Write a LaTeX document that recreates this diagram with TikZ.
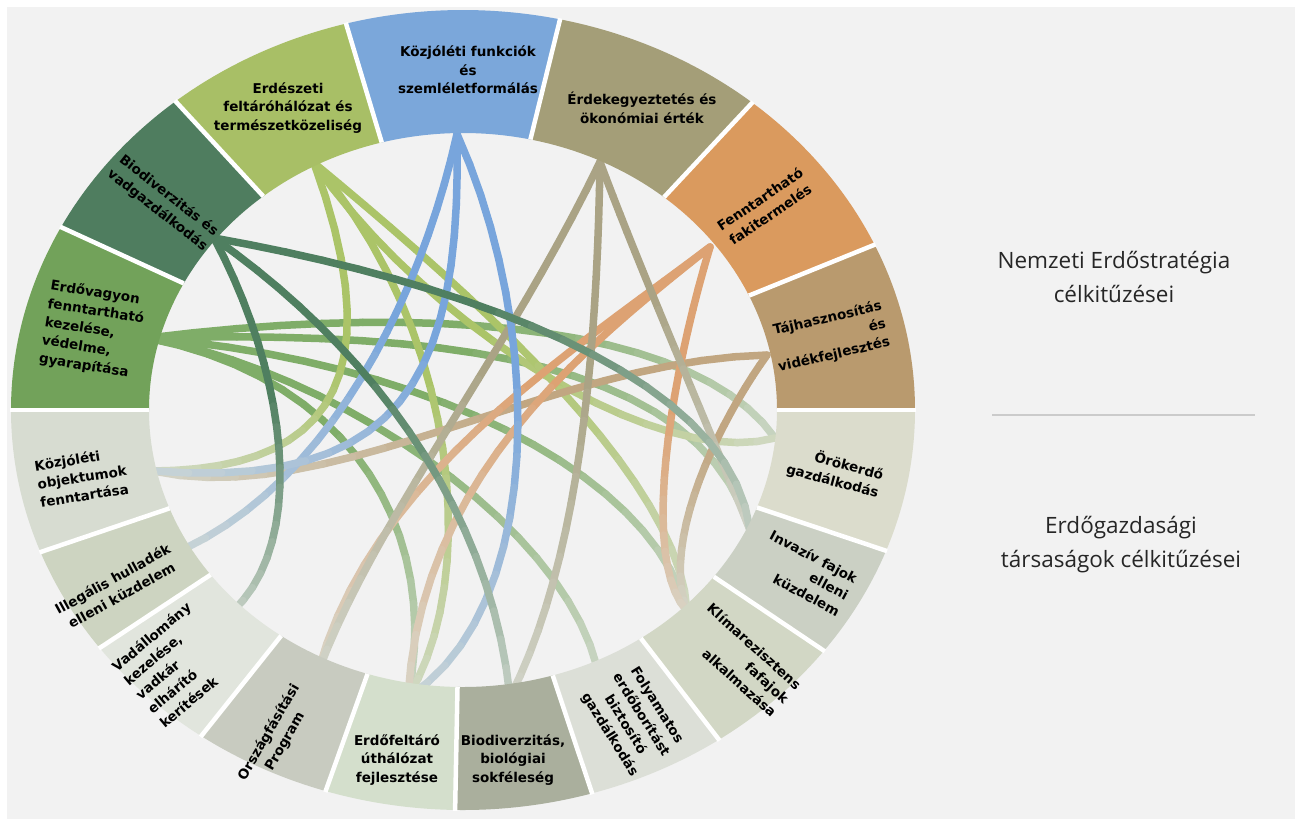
\documentclass[tikz,border=0pt]{standalone}
\usepackage{fontspec}
\setmainfont{DejaVu Sans}
\newfontfamily\osfont{Open Sans}
\usetikzlibrary{calc}
\definecolor{bg}{HTML}{F2F2F2}
\definecolor{sErdovagyon}{HTML}{72A25A}
\definecolor{sBiovad}{HTML}{4F7D5F}
\definecolor{sErdeszeti}{HTML}{A8BF66}
\definecolor{sBlue}{HTML}{7BA7DA}
\definecolor{sErdek}{HTML}{A49E78}
\definecolor{sFennt}{HTML}{DA9A5E}
\definecolor{sTaj}{HTML}{B99A6E}
\definecolor{sKozobj}{HTML}{D7DCD1}
\definecolor{sIlleg}{HTML}{CDD4C1}
\definecolor{sVad}{HTML}{E1E5DD}
\definecolor{sOrszag}{HTML}{C8CBC0}
\definecolor{sErdofelt}{HTML}{D4DFCC}
\definecolor{sBiodiv}{HTML}{AAAF9D}
\definecolor{sFoly}{HTML}{DCDFD7}
\definecolor{sKlima}{HTML}{D2D7C5}
\definecolor{sInvaz}{HTML}{CBD0C4}
\definecolor{sOrok}{HTML}{DBDCCC}
\definecolor{cErdovagyon}{HTML}{7FAD68}
\definecolor{cBiovad}{HTML}{4F7F60}
\definecolor{cErdeszeti}{HTML}{ABC468}
\definecolor{cBlue}{HTML}{78A5DC}
\definecolor{cErdek}{HTML}{AAA385}
\definecolor{cFennt}{HTML}{DDA273}
\definecolor{cTaj}{HTML}{C1A681}
\definecolor{fadec}{HTML}{D8DDD5}
\definecolor{txtdark}{HTML}{262626}
\definecolor{sepgray}{HTML}{CBCBCB}

\newcommand\ringseg[3]{%
  \fill[#3] ($(ctr)+(#1:452pt and 400pt)$) arc[start angle=#1, end angle=#2, x radius=452pt, y radius=400pt]
    -- ($(ctr)+(#2:314pt and 277pt)$) arc[start angle=#2, end angle=#1, x radius=314pt, y radius=277pt] -- cycle;}
\newcommand\gapline[1]{%
  \draw[gapl] ($(ctr)+(#1:314pt and 277pt)$) -- ($(ctr)+(#1:453pt and 401pt)$);}
\newcommand\chord[5]{%
  \path (#1) .. controls #2 and #3 .. (#4)
    coordinate[pos=0] (q0) coordinate[pos=0.05] (q1) coordinate[pos=0.1] (q2)
    coordinate[pos=0.15] (q3) coordinate[pos=0.2] (q4) coordinate[pos=0.25] (q5)
    coordinate[pos=0.3] (q6) coordinate[pos=0.35] (q7) coordinate[pos=0.4] (q8)
    coordinate[pos=0.45] (q9) coordinate[pos=0.5] (q10) coordinate[pos=0.55] (q11)
    coordinate[pos=0.6] (q12) coordinate[pos=0.65] (q13) coordinate[pos=0.7] (q14)
    coordinate[pos=0.75] (q15) coordinate[pos=0.8] (q16) coordinate[pos=0.85] (q17)
    coordinate[pos=0.9] (q18) coordinate[pos=0.95] (q19) coordinate[pos=1] (q20);
  \foreach \k in {0,...,19}{%
    \pgfmathtruncatemacro\kk{\k+1}%
    \pgfmathtruncatemacro\pc{\k<8 ? 100 : 100-80*(\k-7)/12}%
    \draw[chordline, draw=#5!\pc!fadec] (q\k) -- (q\kk);
  }%
}

\begin{document}
\begin{tikzpicture}[x=1pt,y=1pt,
  chordline/.style={line width=7.5pt, line cap=round, line join=round},
  gapl/.style={white, line width=4.5pt},
  lbl/.style={font=\bfseries\fontsize{13.5}{18.5}\selectfont, align=center, text=black, inner sep=0pt},
  rtxt/.style={font=\osfont\fontsize{22.5}{34}\selectfont, align=center, text=txtdark, inner sep=0pt},
  sepline/.style={sepgray, line width=2.5pt}]
\useasboundingbox (0,0) rectangle (1295,-819);
\fill[white] (0,0) rectangle (1295,-819);
\fill[bg] (7,-7) rectangle (1295,-819);

\coordinate (ctr) at (463,-410);
% anchors
\coordinate (t1) at (148,-338);
\coordinate (t2) at (214,-238);
\coordinate (t3) at (314,-163);
\coordinate (t4) at (457,-134);
\coordinate (t5) at (600,-162);
\coordinate (t6) at (710,-247);
\coordinate (t7) at (767,-355);
\coordinate (b1) at (153,-471);
\coordinate (b2) at (184,-549);
\coordinate (b3) at (232,-612);
\coordinate (b4) at (318,-672);
\coordinate (b5) at (408,-697);
\coordinate (b6) at (510,-697);
\coordinate (b7) at (597,-667);
\coordinate (b8) at (687,-611);
\coordinate (b9) at (750,-530);
\coordinate (b10) at (775,-438);

% chords
\chord{t1}{(330,-370)}{(560,-520)}{b7}{cErdovagyon}
\chord{t1}{(360,-380)}{(440,-540)}{b5}{cErdovagyon}
\chord{t1}{(420,-360)}{(650,-470)}{b8}{cErdovagyon}
\chord{t1}{(450,-330)}{(700,-360)}{b9}{cErdovagyon}
\chord{t1}{(450,-300)}{(700,-330)}{b10}{cErdovagyon}
\chord{t3}{(400,-400)}{(310,-470)}{b1}{cErdeszeti}
\chord{t3}{(460,-330)}{(480,-580)}{b5}{cErdeszeti}
\chord{t3}{(430,-330)}{(660,-470)}{b10}{cErdeszeti}
\chord{t3}{(480,-300)}{(680,-480)}{b8}{cErdeszeti}
\chord{t7}{(550,-360)}{(330,-510)}{b1}{cTaj}
\chord{t7}{(720,-420)}{(660,-540)}{b8}{cTaj}
\chord{t6}{(560,-360)}{(370,-480)}{b4}{cFennt}
\chord{t6}{(580,-350)}{(420,-480)}{b5}{cFennt}
\chord{t6}{(670,-380)}{(640,-560)}{b8}{cFennt}
\chord{t5}{(510,-350)}{(375,-520)}{b4}{cErdek}
\chord{t5}{(597,-350)}{(580,-560)}{b6}{cErdek}
\chord{t5}{(640,-270)}{(710,-430)}{b9}{cErdek}
\chord{t4}{(420,-300)}{(330,-480)}{b2}{cBlue}
\chord{t4}{(462,-380)}{(400,-490)}{b1}{cBlue}
\chord{t4}{(545,-330)}{(545,-610)}{b5}{cBlue}
\chord{t2}{(285,-370)}{(310,-540)}{b3}{cBiovad}
\chord{t2}{(360,-340)}{(490,-500)}{b6}{cBiovad}
\chord{t2}{(450,-280)}{(730,-370)}{b9}{cBiovad}

% ring
\ringseg{0}{24.4}{sTaj}
\ringseg{24.4}{50.2}{sFennt}
\ringseg{50.2}{77.6}{sErdek}
\ringseg{77.6}{105}{sBlue}
\ringseg{105}{129.5}{sErdeszeti}
\ringseg{129.5}{152.8}{sBiovad}
\ringseg{152.8}{180}{sErdovagyon}
\ringseg{180}{200.8}{sKozobj}
\ringseg{200.8}{216.5}{sIlleg}
\ringseg{216.5}{234.6}{sVad}
\ringseg{234.6}{252.3}{sOrszag}
\ringseg{252.3}{269}{sErdofelt}
\ringseg{269}{286.6}{sBiodiv}
\ringseg{286.6}{304.5}{sFoly}
\ringseg{304.5}{323}{sKlima}
\ringseg{323}{339.4}{sInvaz}
\ringseg{339.4}{360}{sOrok}
\foreach \a in {0,24.4,50.2,77.6,105,129.5,152.8,180,200.8,216.5,234.6,252.3,269,286.6,304.5,323,339.4}{\gapline{\a}}

% labels, upper half
\node[lbl] (l4) at (468,-70) {Közjóléti funkciók\\és\\szemléletformálás};
\node[lbl] (l5) at (642,-108) {Érdekegyeztetés és\\ökonómiai érték};
\node[lbl, rotate=34] (l6) at (765,-207) {Fenntartható\\fakitermelés};
\node[lbl, rotate=13, align=right] (l7) at (830,-337) {Tájhasznosítás\\és\\vidékfejlesztés};
\node[lbl] (l3) at (288,-108) {Erdészeti\\feltáróhálózat és\\természetközeliség};
\node[lbl, rotate=-38] (l2) at (163,-203) {Biodiverzitás és\\vadgazdálkodás};
\node[lbl, rotate=-9, align=left] (l1) at (93,-330) {Erdővagyon\\fenntartható\\kezelése,\\védelme,\\gyarapítása};
% labels, lower half
\node[lbl, rotate=9, align=left] (m1) at (82,-477) {Közjóléti\\objektumok\\fenntartása};
\node[lbl, rotate=29] (m2) at (117,-587) {Illegális hulladék\\elleni küzdelem};
\node[lbl, rotate=40, align=left] (m3) at (175,-665) {Vadállomány\\kezelése,\\vadkár\\elhárító\\kerítések};
\node[lbl, rotate=60] (m4) at (277,-737) {Országfásítási\\Program};
\node[lbl] (m5) at (397,-760) {Erdőfeltáró\\úthálózat\\fejlesztése};
\node[lbl] (m6) at (513,-760) {Biodiverzitás,\\biológiai\\sokféleség};
\node[lbl, rotate=-58] (m7) at (633,-720) {Folyamatos\\erdőborítást\\biztosító\\gazdálkodás};
\node[lbl, rotate=-42, align=right] (m8) at (742,-660) {Klímarezisztens\\fafajok\\alkalmazása};
\node[lbl, rotate=-28, align=right] (m9) at (805,-573) {Invazív fajok\\elleni\\küzdelem};
\node[lbl, rotate=-15, align=right] (m10) at (835,-472) {Örökerdő\\gazdálkodás};

% legend text
\node[rtxt] (nes) at (1114,-277) {Nemzeti Erdőstratégia\\célkitűzései};
\node[rtxt] (egt) at (1121,-545) {Erdőgazdasági\\társaságok célkitűzései};
\draw[sepline] (992,-415) -- (1255,-415);
\end{tikzpicture}
\end{document}
